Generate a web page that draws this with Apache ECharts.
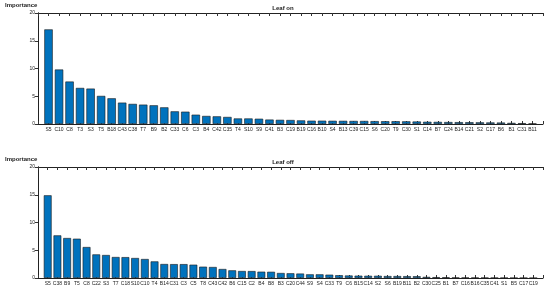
<!DOCTYPE html>
<html>
<head>
<meta charset="utf-8">
<script src="https://cdn.jsdelivr.net/npm/echarts@6/dist/echarts.min.js"></script>
<style>
html, body { margin: 0; padding: 0; background: #fff; }
#chart { width: 550px; height: 288px; }
</style>
</head>
<body>
<div id="chart"></div>
<script>
// Leaf on
var onSites = ['S5', 'C10', 'C8', 'T3', 'S3', 'T5', 'B18', 'C43', 'C38', 'T7', 'B9', 'B2', 'C33', 'C6', 'C3', 'B4',
    'C42', 'C35', 'T4', 'S10', 'S9', 'C41', 'B3', 'C19', 'B19', 'C16', 'B10', 'S4', 'B13', 'C39', 'C15', 'S6',
    'C20', 'T9', 'C30', 'S1', 'C14', 'B7', 'C24', 'B14', 'C21', 'S2', 'C17', 'B6', 'B1', 'C31', 'B11'];
var onValues = [17.05, 9.82, 7.65, 6.5, 6.38, 5.06, 4.63, 3.85, 3.62, 3.49, 3.37, 3.0, 2.28, 2.22, 1.68, 1.45,
    1.38, 1.27, 1.0, 1.0, 0.95, 0.8, 0.75, 0.72, 0.65, 0.6, 0.6, 0.58, 0.57, 0.55, 0.55, 0.52,
    0.5, 0.5, 0.48, 0.45, 0.4, 0.38, 0.35, 0.33, 0.32, 0.3, 0.28, 0.26, 0.2, 0.15, 0.1];

// Leaf off
var offSites = ['S5', 'C38', 'B9', 'T5', 'C8', 'C22', 'S3', 'T7', 'C18', 'S10', 'C10', 'T4', 'B14', 'C31', 'C3', 'C5',
    'T8', 'C43', 'C42', 'B6', 'C15', 'C2', 'B4', 'B8', 'B3', 'C20', 'C44', 'S9', 'S4', 'C33', 'T9', 'C6',
    'B15', 'C14', 'S2', 'S6', 'B19', 'B11', 'B2', 'C30', 'C25', 'B1', 'B7', 'C16', 'B16', 'C35', 'C41', 'S1',
    'B5', 'C17', 'C19'];
var offValues = [14.9, 7.68, 7.2, 7.08, 5.58, 4.25, 4.14, 3.78, 3.76, 3.6, 3.42, 2.99, 2.52, 2.5, 2.5, 2.4,
    2.04, 1.98, 1.62, 1.38, 1.26, 1.25, 1.14, 1.12, 0.9, 0.85, 0.8, 0.66, 0.66, 0.6, 0.5, 0.45,
    0.42, 0.4, 0.4, 0.35, 0.35, 0.33, 0.32, 0.2, 0.15, 0.13, 0.08, 0.07, 0.06, 0.05, 0.04, 0.03,
    0.02, 0.02, 0.01];

var yTicks = [0, 5, 10, 15, 20];

var barColor = '#0072BD';
var fontName = 'Liberation Sans';
var textColor = '#222';

var chart = echarts.init(document.getElementById('chart'));

// x axis as value axis 0..n+1 like matlab's bar, one tick per site
var makeX = function (cats, gridIndex, top) {
    return {
        type: 'value',
        gridIndex: gridIndex,
        position: top ? 'top' : 'bottom',
        min: 0, max: cats.length + 1, interval: 1,
        axisLine: { show: true, onZero: false, lineStyle: { color: '#222', width: 1 } },
        axisTick: { show: true, inside: true, length: 3, lineStyle: { color: '#333' } },
        axisLabel: top ? { show: false } : {
            fontSize: 5, color: textColor, margin: 3, fontFamily: fontName,
            showMinLabel: true, showMaxLabel: true,
            formatter: function (v) { return cats[v - 1] || ''; }
        },
        splitLine: { show: false }
    };
};

var makeY = function (gridIndex, right) {
    return {
        type: 'value',
        gridIndex: gridIndex,
        position: right ? 'right' : 'left',
        min: 0, max: 20, interval: 5,
        axisLine: { show: true, lineStyle: { color: '#222', width: 1 } },
        axisTick: { show: true, inside: right, length: 3, lineStyle: { color: '#333' } },
        axisLabel: right ? { show: false } : {
            fontSize: 5, color: textColor, margin: 3, fontFamily: fontName,
            formatter: function (v) { return yTicks.indexOf(v) >= 0 ? v : ''; }
        },
        splitLine: { show: false }
    };
};

var makeBar = function (vals, idx, width) {
    var pts = [];
    for (var i = 0; i < vals.length; i++) {
        pts.push([i + 1, vals[i]]);
    }
    return {
        type: 'bar',
        xAxisIndex: idx,
        yAxisIndex: idx,
        data: pts,
        barWidth: width,
        itemStyle: { color: barColor, borderColor: '#1a1a1a', borderWidth: 0.6 },
        silent: true
    };
};

var titleStyle = { fontSize: 6, fontWeight: 'bold', color: textColor, fontFamily: fontName };

var option = {
    animation: false,
    backgroundColor: '#fff',
    title: [
        { text: 'Importance', left: 5, top: 2, padding: 0, textStyle: titleStyle },
        { text: 'Leaf on', left: 283, top: 5, padding: 0, textAlign: 'center', textStyle: titleStyle },
        { text: 'Importance', left: 5, top: 156, padding: 0, textStyle: titleStyle },
        { text: 'Leaf off', left: 283, top: 159, padding: 0, textAlign: 'center', textStyle: titleStyle }
    ],
    grid: [
        { left: 38, right: 7, top: 13, height: 111 },
        { left: 38, right: 7, top: 167, height: 111 }
    ],
    xAxis: [
        makeX(onSites, 0, false),
        makeX(offSites, 1, false),
        makeX(onSites, 0, true),
        makeX(offSites, 1, true)
    ],
    yAxis: [
        makeY(0, false),
        makeY(1, false),
        makeY(0, true),
        makeY(1, true)
    ],
    series: [
        makeBar(onValues, 0, 8.4),
        makeBar(offValues, 1, 7.8)
    ]
};

chart.setOption(option);
</script>
</body>
</html>
